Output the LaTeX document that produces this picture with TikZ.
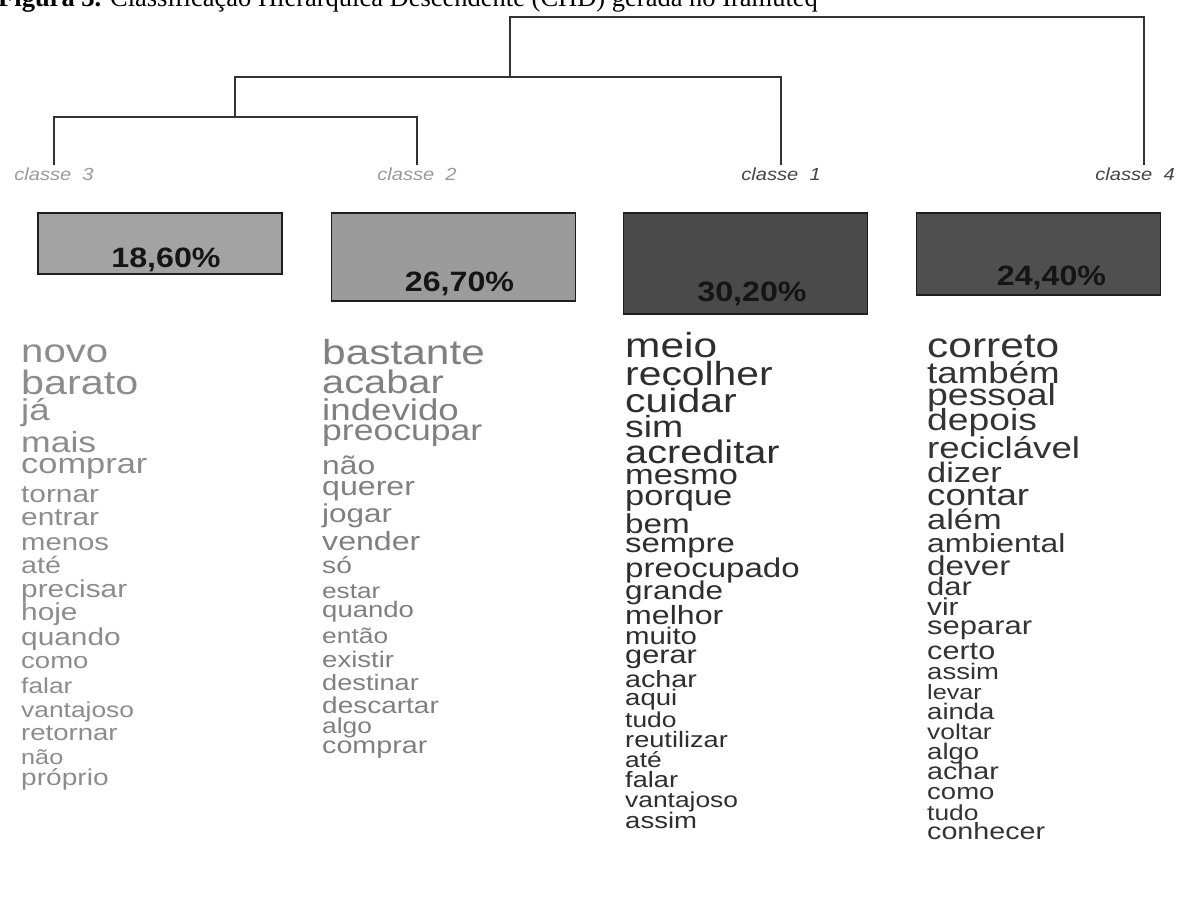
\documentclass[tikz,border=0pt]{standalone}
\usepackage{fontspec}
\setmainfont{Liberation Sans}[FakeStretch=1.15]
\newfontfamily\palavrafont{Liberation Sans}[FakeStretch=1.22]
\newfontfamily\capfont{Liberation Serif}
\usetikzlibrary{positioning}

\definecolor{linha}{HTML}{333333}
\definecolor{borda}{HTML}{1E1E1E}
\definecolor{cxclara}{HTML}{A3A3A3}
\definecolor{cxmedia}{HTML}{9B9B9B}
\definecolor{cxescura}{HTML}{4A4A4A}
\definecolor{cxescurab}{HTML}{4F4F4F}
\definecolor{pctcor}{HTML}{151515}
\definecolor{rotclaro}{HTML}{9A9A9A}
\definecolor{rotescuro}{HTML}{444444}
\definecolor{cinzaA}{HTML}{8C8C8C}
\definecolor{cinzaB}{HTML}{808080}
\definecolor{pretoA}{HTML}{2E2E2E}
\definecolor{pretoB}{HTML}{333333}

\newcommand\tam[1]{\fontsize{#1}{#1}\selectfont}
\newcommand\tamw[1]{\fontsize{\fpeval{#1*0.94}}{\fpeval{#1*0.94}}\selectfont}

\tikzset{
  ramo/.style={draw=linha, line width=1.5pt},
  classe/.style={font=\tam{17.5}\itshape, inner xsep=0pt, inner ysep=2pt, anchor=base},
  caixa/.style={draw=borda, line width=1.5pt, minimum width=244pt, inner sep=0pt, anchor=north},
  pct/.style={font=\tam{28}\bfseries, text=pctcor, inner sep=0pt},
  palavra/.style={anchor=base west, inner sep=0pt},
}

\begin{document}
\begin{tikzpicture}[x=1pt,y=-1pt]
\useasboundingbox (0,0) rectangle (1184,914);
\clip (0,0) rectangle (1184,914);

% legenda
\node[anchor=base west, inner sep=0pt, font=\capfont\tam{26.5}] (titulo) at (-2,6)
  {\textbf{Figura 3.} Classificação Hierarquica Descendente (CHD) gerada no Iramuteq};

% dendrograma
\node[classe, text=rotclaro] (c3) at (54,180) {classe~~3};
\node[classe, text=rotclaro] (c2) at (417,180) {classe~~2};
\node[classe, text=rotescuro] (c1) at (781,180) {classe~~1};
\node[classe, text=rotescuro] (c4) at (1135,180) {classe~~4};
\coordinate (n32) at (235,117);
\coordinate (n321) at (510,77);
\coordinate (n3214) at (1144,17);
\draw[ramo] (c3.north) |- (n32) -| (c2.north);
\draw[ramo] (n32) |- (n321) -| (c1.north);
\draw[ramo] (n321) |- (n3214) -- ([xshift=9pt]c4.north);

% caixas
\node[caixa, fill=cxclara, minimum height=61pt] (b3) at (160,212) {};
\node[caixa, fill=cxmedia, minimum height=88pt] (b2) at (453.5,212) {};
\node[caixa, fill=cxescura, minimum height=101pt] (b1) at (745.5,212) {};
\node[caixa, fill=cxescurab, minimum height=82pt] (b4) at (1038.5,212) {};
\node[pct, above=2pt of b3.south, xshift=6pt] (p3) {18,60\%};
\node[pct, above=5pt of b2.south, xshift=6pt] (p2) {26,70\%};
\node[pct, above=8pt of b1.south, xshift=6.5pt] (p1) {30,20\%};
\node[pct, above=5pt of b4.south, xshift=13pt] (p4) {24,40\%};

% palavras classe 3
\foreach \w/\s/\y [count=\i] in {novo/35/362, barato/36/394, já/32/420, mais/31/452,
  comprar/30/473, tornar/26/502, entrar/26/525, menos/25.5/550, até/25/573,
  precisar/26/597, hoje/26/620, quando/26/645, como/24/668, falar/23/693,
  vantajoso/23/717, retornar/24/740, não/22/764, próprio/24.5/785}
  \node[palavra, text=cinzaA, font=\palavrafont\tamw{\s}] (w3-\i) at (21,\y) {\w};

% palavras classe 2
\foreach \w/\s/\y [count=\i] in {bastante/37/364, acabar/34.7/393, indevido/32/420,
  preocupar/31/440, não/27.7/474, querer/28/495, jogar/27.4/522, vender/28/550,
  só/24.7/573, estar/22.8/598, quando/24/617, então/23/643, existir/24/667,
  destinar/23.7/690, descartar/24.4/713, algo/23/733, comprar/25/753}
  \node[palavra, text=cinzaB, font=\palavrafont\tamw{\s}] (w2-\i) at (322,\y) {\w};

% palavras classe 1
\foreach \w/\s/\y [count=\i] in {meio/37/357, recolher/35.6/385, cuidar/35.7/412,
  sim/32.6/437, acreditar/34.6/463, mesmo/30/484, porque/30/505, bem/29/533,
  sempre/28.7/552, preocupado/28.8/577, grande/27.4/599, melhor/28/624,
  muito/25.6/644, gerar/26.8/663, achar/25/687, aqui/24/705, tudo/23/727,
  reutilizar/23.7/747, até/23/767, falar/23.7/787, vantajoso/23/807, assim/24/828}
  \node[palavra, text=pretoA, font=\palavrafont\tamw{\s}] (w1-\i) at (625,\y) {\w};

% palavras classe 4
\foreach \w/\s/\y [count=\i] in {correto/37/357, também/32/383, pessoal/32.6/405,
  depois/32.5/430, reciclável/32/458, dizer/30/482, contar/32/505, além/30/529,
  ambiental/27.8/552, dever/29/575, dar/27/595, vir/26/615, separar/27/634,
  certo/26.7/659, assim/24/679, levar/22/699, ainda/24/719, voltar/23/739,
  algo/24/759, achar/25/779, como/24/799, tudo/23/820, conhecer/25/839}
  \node[palavra, text=pretoB, font=\palavrafont\tamw{\s}] (w4-\i) at (927,\y) {\w};
\end{tikzpicture}
\end{document}
